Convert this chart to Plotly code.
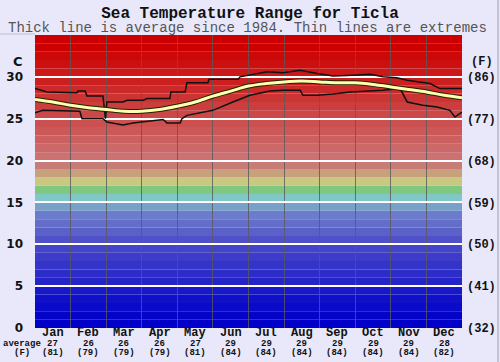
import plotly.graph_objects as go

# ---------------- data ----------------
months = ["Jan", "Feb", "Mar", "Apr", "May", "Jun", "Jul", "Aug", "Sep", "Oct", "Nov", "Dec"]
avg_c_labels = ["27", "26", "26", "26", "27", "29", "29", "29", "29", "29", "29", "28"]
avg_f_labels = ["(81)", "(79)", "(79)", "(79)", "(81)", "(84)", "(84)", "(84)", "(84)", "(84)", "(84)", "(82)"]

c_ticks = [0, 5, 10, 15, 20, 25, 30]
f_ticks = ["(32)", "(41)", "(50)", "(59)", "(68)", "(77)", "(86)"]

# average temperature (x in months from 1 Jan)
avg_x = [0, 0.5, 1.0, 1.5, 2.0, 2.5, 3.0, 3.5, 4.0, 4.5, 5.0, 5.5, 6.0,
         6.5, 7.0, 7.5, 8.0, 8.5, 9.0, 9.5, 10.0, 10.5, 11.0, 11.5, 12.0]
avg_t = [27.3, 27.0, 26.6, 26.3, 26.1, 25.9, 25.9, 26.1, 26.5, 27.0, 27.7, 28.3, 28.9,
         29.2, 29.4, 29.5, 29.4, 29.3, 29.3, 29.1, 28.8, 28.5, 28.2, 27.8, 27.5]

# maximum (upper extreme)
max_x = [0, 0.34, 1.18, 1.21, 1.41, 1.46, 1.91, 1.96, 1.98, 2.02, 2.47, 2.59, 3.04, 3.15,
         3.79, 3.82, 4.22, 4.27, 4.86, 4.89, 5.71, 5.76, 6.04, 6.52, 6.97, 7.45,
         7.93, 8.38, 8.94, 9.42, 9.78, 10.17, 10.46, 11.10, 11.38, 12.0]
max_t = [28.6, 28.2, 28.1, 28.3, 28.3, 27.7, 27.7, 25.0, 25.0, 27.0, 27.0, 27.2, 27.2, 27.4,
         27.4, 28.2, 28.2, 29.3, 29.3, 29.7, 29.7, 30.0, 30.2, 30.6, 30.5, 30.8,
         30.4, 30.1, 30.2, 30.3, 30.0, 29.9, 29.6, 29.2, 28.6, 28.6]

# minimum (lower extreme)
min_x = [0, 0.22, 1.26, 1.32, 1.91, 2.02, 2.47, 2.75, 3.60, 3.71, 4.08, 4.13, 4.27,
         5.0, 5.56, 5.96, 6.04, 6.6, 6.97, 7.45, 7.53, 7.93, 8.38, 8.85, 9.78, 10.26,
         10.46, 10.9, 11.3, 11.66, 11.8, 12.0]
min_t = [25.7, 26.0, 25.9, 25.0, 25.0, 24.6, 24.25, 24.5, 24.9, 24.5, 24.5, 25.0, 25.4,
         26.0, 27.0, 27.6, 27.8, 28.3, 28.4, 28.4, 27.8, 27.8, 27.95, 28.2, 28.4, 28.6,
         27.0, 26.6, 26.4, 26.0, 25.2, 25.8]

# one colour per 1-degree band, from 0-1 C up to 34-35 C
band_colors = [
    "#0000c8", "#0404c8", "#0a0ac8", "#1010c8", "#1818c8",
    "#2424c8", "#2c2cc8", "#3434c8", "#3c3cc8", "#4444c8",
    "#5050c8", "#5a62c8", "#646ec8", "#6c7ccc", "#78a0c8",
    "#80c8c8", "#80c880", "#c8c880", "#c8a07c", "#c87c78",
    "#cc7070", "#cc6868", "#cc6060", "#cc5858", "#cc5050",
    "#cc4848", "#cc3e3e", "#cc3434", "#cc2a2a", "#cc2020",
    "#cc1818", "#cc1010", "#cc0808", "#cc0000", "#cc0000",
]

BG = "#e8e8fa"
MONO = "Liberation Mono, Courier New, monospace"

fig = go.Figure()

# band shapes
shapes = []
for i, col in enumerate(band_colors):
    shapes.append(dict(type="rect", xref="paper", yref="y", x0=0, x1=1, y0=i, y1=i + 1,
                       fillcolor=col, line=dict(width=0), layer="below"))
# frame lines
shapes.append(dict(type="line", xref="paper", yref="paper", x0=1.0843, x1=1.0843,
                   y0=1.2, y1=-0.2, line=dict(color="#a0a0a8", width=1)))
shapes.append(dict(type="line", xref="paper", yref="paper", x0=-0.1, x1=0,
                   y0=1.0034, y1=1.0034, line=dict(color="#c0c0c8", width=1)))

fig.add_trace(go.Scatter(x=max_x, y=max_t, mode="lines",
                         line=dict(color="#111111", width=1.5), hoverinfo="skip"))
fig.add_trace(go.Scatter(x=min_x, y=min_t, mode="lines",
                         line=dict(color="#111111", width=1.5), hoverinfo="skip"))
fig.add_trace(go.Scatter(x=avg_x, y=avg_t, mode="lines", line_shape="spline",
                         line=dict(color="#222200", width=5), hoverinfo="skip"))
fig.add_trace(go.Scatter(x=avg_x, y=avg_t, mode="lines", line_shape="spline",
                         line=dict(color="#ffffb0", width=3), hoverinfo="skip"))
# invisible trace to anchor the Fahrenheit axis
fig.add_trace(go.Scatter(x=avg_x, y=avg_t, yaxis="y2", mode="lines",
                         line=dict(color="rgba(0,0,0,0)", width=0), hoverinfo="skip"))

ROW1, ROW2, ROW3 = -0.0171, -0.0546, -0.0870

annotations = [
    dict(text="Thick line is average since 1984. Thin lines are extremes",
         xref="paper", yref="paper", x=0.4988, y=1.0235, xanchor="center", yanchor="middle",
         showarrow=False, borderpad=0, font=dict(family=MONO, size=14, color="#555555")),
    dict(text="<b>C</b>", xref="paper", yref="y", x=-0.0398, y=31.8,
         xanchor="center", yanchor="middle", showarrow=False,
         font=dict(family="DejaVu Sans", size=13, color="#111111")),
    dict(text="<b>(F)</b>", xref="paper", yref="y", x=1.0468, y=31.8,
         xanchor="center", yanchor="middle", showarrow=False,
         font=dict(family=MONO, size=12, color="#111111")),
    dict(text="<b>average</b>", xref="paper", yref="paper", x=-0.0304, y=ROW2,
         xanchor="center", yanchor="middle", showarrow=False, borderpad=0,
         font=dict(family=MONO, size=9, color="#111111")),
    dict(text="<b>(F)</b>", xref="paper", yref="paper", x=-0.0304, y=ROW3,
         xanchor="center", yanchor="middle", showarrow=False, borderpad=0,
         font=dict(family=MONO, size=9, color="#111111")),
]
for i in range(12):
    annotations.append(dict(text="<b>" + months[i] + "</b>", xref="x", yref="paper",
                            x=i + 0.5, y=ROW1, xanchor="center", yanchor="middle",
                            showarrow=False, borderpad=0,
                            font=dict(family=MONO, size=12, color="#111111")))
    annotations.append(dict(text="<b>" + avg_c_labels[i] + "</b>", xref="x", yref="paper",
                            x=i + 0.5, y=ROW2, xanchor="center", yanchor="middle",
                            showarrow=False, borderpad=0,
                            font=dict(family=MONO, size=9, color="#111111")))
    annotations.append(dict(text="<b>" + avg_f_labels[i] + "</b>", xref="x", yref="paper",
                            x=i + 0.5, y=ROW3, xanchor="center", yanchor="middle",
                            showarrow=False, borderpad=0,
                            font=dict(family=MONO, size=9, color="#111111")))

fig.update_layout(
    width=500, height=362,
    margin=dict(l=35, r=38, t=35, b=34, autoexpand=False),
    paper_bgcolor=BG, plot_bgcolor=BG,
    showlegend=False,
    title=dict(text="<b>Sea Temperature Range for Ticla</b>", x=0.5, xanchor="center",
               y=1 - 12 / 362, yanchor="middle",
               font=dict(family=MONO, size=16, color="#111111")),
    shapes=shapes,
    annotations=annotations,
    xaxis=dict(range=[0, 12], tickmode="array", tickvals=[i + 0.5 for i in range(12)],
               showticklabels=False, showgrid=False,
               zeroline=False, showline=False, ticks="", automargin=False,
               minor=dict(tickmode="array", tickvals=list(range(1, 12)), showgrid=True,
                          gridcolor="rgba(90,90,90,0.8)", gridwidth=1, ticks="")),
    yaxis=dict(range=[0, 35], tickmode="array", tickvals=c_ticks,
               ticktext=["<b>%d</b>" % v for v in c_ticks], showgrid=True,
               gridcolor="#ffffff", gridwidth=2, zeroline=False, showline=False,
               ticks="", ticklabelstandoff=11, automargin=False,
               tickfont=dict(family="DejaVu Sans", size=12, color="#111111")),
    yaxis2=dict(range=[0, 35], overlaying="y", side="right", tickmode="array",
                tickvals=c_ticks, ticktext=["<b>" + t + "</b>" for t in f_ticks],
                showgrid=False, zeroline=False, showline=False, ticks="",
                ticklabelstandoff=4, automargin=False,
                tickfont=dict(family=MONO, size=12, color="#111111")),
)

fig.write_html("out.html", config={"displayModeBar": False},
               post_script="document.body.style.margin='0';document.body.style.overflow='hidden';")
